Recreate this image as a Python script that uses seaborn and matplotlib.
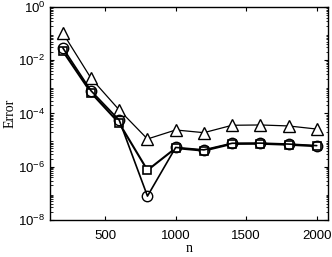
import matplotlib
matplotlib.use("Agg")
import matplotlib.pyplot as plt
import seaborn as sns
import numpy as np
from matplotlib.ticker import LogLocator, NullFormatter

n = [200, 400, 600, 800, 1000, 1200, 1400, 1600, 1800, 2000]
err_tri = [1.05e-1, 2.1e-3, 1.35e-4, 1.1e-5, 2.4e-5, 1.9e-5, 3.6e-5, 3.7e-5, 3.4e-5, 2.6e-5]
err_circ = [2.9e-2, 7.1e-4, 5.6e-5, 7.9e-8, 5.3e-6, 4.3e-6, 7.6e-6, 7.7e-6, 7.1e-6, 6.2e-6]
err_sq = [2.2e-2, 6.0e-4, 4.3e-5, 7.4e-7, 5.0e-6, 4.0e-6, 7.2e-6, 7.3e-6, 6.7e-6, 5.9e-6]

sns.set_style("ticks", {'axes.edgecolor': 'black', 'text.color': 'black',
                        'xtick.color': 'black', 'ytick.color': 'black',
                        'axes.labelcolor': 'black'})
plt.rcParams['font.family'] = ['Liberation Sans', 'DejaVu Sans']
plt.rcParams['mathtext.fontset'] = 'custom'
plt.rcParams['mathtext.rm'] = 'Liberation Sans'

fig, ax = plt.subplots(figsize=(3.32, 2.57), dpi=100)
fig.subplots_adjust(left=0.151, right=0.988, top=0.973, bottom=0.144)

sns.lineplot(x=n, y=err_tri, ax=ax, color='black', lw=0.9, marker='^', ms=8,
             markerfacecolor='white', markeredgecolor='black', markeredgewidth=1.0)
sns.lineplot(x=n, y=err_sq, ax=ax, color='black', lw=1.5, marker='s', ms=5.5,
             markerfacecolor='white', markeredgecolor='black', markeredgewidth=1.2)
sns.lineplot(x=n, y=err_circ, ax=ax, color='black', lw=1.2, marker='o', ms=7.5,
             markerfacecolor='none', markeredgecolor='black', markeredgewidth=1.0)

ax.set_yscale('log')
ax.set_ylim(1e-8, 1)
ax.set_xlim(110, 2080)
ax.set_xticks([500, 1000, 1500, 2000])
ax.set_yticks([1e-8, 1e-6, 1e-4, 1e-2, 1e0])
ax.set_yticklabels([r'$10^{-8}$', r'$10^{-6}$', r'$10^{-4}$', r'$10^{-2}$', r'$10^{0}$'])
ax.yaxis.set_minor_locator(LogLocator(base=10, subs=np.arange(2, 10), numticks=20))
ax.yaxis.set_minor_formatter(NullFormatter())

ax.tick_params(which='both', direction='in', top=True, right=True, labelsize=9.5)
ax.tick_params(which='major', length=3, width=0.8)
ax.tick_params(which='minor', length=1.8, width=0.6)
ax.tick_params(axis='x', which='major', pad=7)
for s in ax.spines.values():
    s.set_linewidth(1.0)

ax.set_xlabel('n', family=['Liberation Serif'], fontsize=10, labelpad=0.5)
ax.set_ylabel('Error', family=['Liberation Serif'], fontsize=10, labelpad=1)

fig.savefig('out.png', dpi=100)
